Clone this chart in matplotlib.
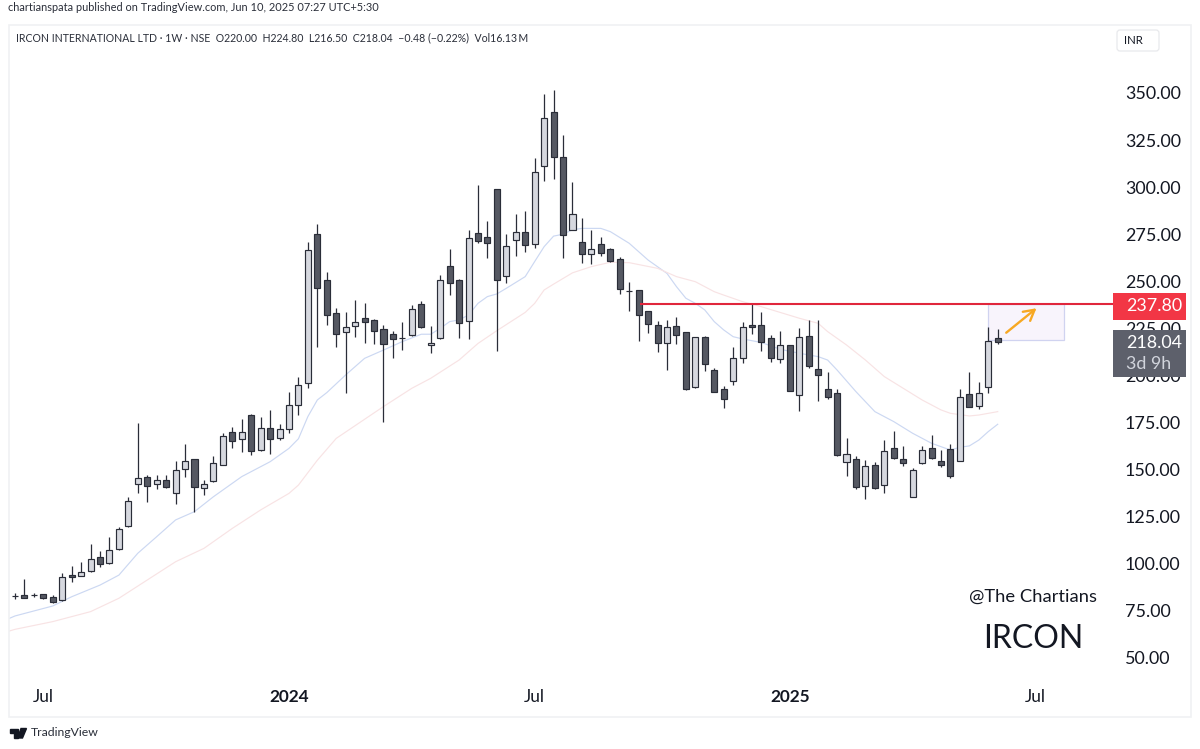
import matplotlib.pyplot as plt
from matplotlib.patches import Rectangle, Polygon, FancyBboxPatch

plt.rcParams['font.family'] = ['Lato', 'DejaVu Sans']

# weekly candles
opens = [83.0, 83.4, 83.4, 83.8, 82.4, 80.8, 94.1, 93.3, 96.0, 103.6, 100.2, 108.0, 119.9, 142.6, 145.9,
         142.6, 144.7, 137.6, 150.3, 155.5, 140.4, 143.9, 152.6, 170.0, 166.4, 178.8, 160.4, 171.9, 166.8, 171.8,
         184.5, 196.2, 275.1, 250.7, 233.2, 222.9, 226.3, 230.4, 229.3, 224.5, 222.0, 219.7, 221.3, 237.8, 216.0,
         219.7, 258.0, 250.7, 228.8, 275.5, 273.7, 299.0, 252.6, 271.8, 276.0, 269.6, 311.4, 339.7, 315.8, 277.1,
         270.7, 264.3, 269.8, 267.0, 262.0, 245.0, 245.4, 234.2, 226.8, 217.1, 226.3, 222.9, 193.7, 220.6, 203.1,
         192.6, 197.2, 209.3, 227.0, 226.8, 220.1, 208.8, 216.2, 189.8, 221.0, 203.4, 192.8, 190.9, 153.9, 155.8,
         141.5, 152.5, 141.7, 161.7, 155.8, 135.3, 153.7, 161.3, 154.4, 160.8, 154.8, 190.0, 184.0, 193.7, 220.0]
highs = [84.3, 91.8, 84.7, 84.1, 83.4, 94.9, 99.0, 100.8, 110.3, 106.6, 114.1, 119.4, 135.5, 174.6, 147.0,
         147.2, 147.2, 154.6, 163.6, 155.5, 144.3, 157.4, 169.5, 172.6, 176.9, 179.7, 177.9, 181.7, 174.4, 191.0,
         199.2, 270.7, 280.5, 254.8, 235.7, 233.9, 240.1, 238.7, 229.8, 226.8, 223.5, 228.6, 237.3, 239.6, 226.5,
         253.4, 267.0, 251.0, 277.1, 301.0, 282.0, 299.0, 275.1, 285.9, 287.3, 315.7, 349.5, 351.6, 327.7, 302.6,
         283.4, 277.2, 273.7, 267.9, 262.9, 249.5, 245.4, 234.2, 228.8, 229.5, 231.2, 223.3, 220.6, 221.0, 203.8,
         194.4, 215.0, 228.4, 237.9, 233.7, 221.5, 223.5, 216.4, 225.2, 229.5, 229.5, 201.7, 192.7, 166.6, 157.3,
         155.0, 153.9, 165.7, 170.5, 162.4, 150.7, 162.4, 168.2, 160.4, 163.8, 192.7, 201.7, 196.4, 225.8, 224.8]
lows = [81.3, 82.0, 82.2, 81.5, 79.4, 80.4, 90.5, 93.3, 95.8, 98.1, 100.0, 107.5, 119.7, 137.8, 132.6,
        139.5, 140.4, 131.8, 145.9, 127.3, 136.5, 143.6, 152.6, 161.5, 159.5, 157.6, 160.0, 158.5, 165.7, 169.7,
        179.2, 193.2, 215.3, 226.8, 215.3, 190.5, 220.6, 217.4, 216.9, 175.2, 209.3, 213.7, 221.0, 225.4, 212.1,
        219.6, 242.9, 220.1, 219.6, 270.2, 262.2, 213.2, 249.3, 263.2, 265.7, 267.5, 303.1, 304.5, 262.2, 277.1,
        259.7, 259.2, 263.6, 260.4, 243.4, 234.4, 218.5, 222.4, 212.6, 202.9, 216.5, 192.3, 193.4, 202.4, 191.0,
        182.9, 195.1, 206.8, 221.9, 213.2, 207.3, 206.8, 191.6, 181.0, 203.8, 186.5, 187.7, 157.1, 146.5, 139.9,
        134.2, 139.9, 137.8, 155.5, 151.8, 135.3, 153.2, 155.8, 151.2, 145.4, 154.4, 183.1, 182.4, 190.9, 216.5]
closes = [82.9, 82.0, 83.4, 81.7, 79.9, 93.0, 92.8, 95.5, 102.7, 99.7, 107.5, 118.3, 133.5, 145.6, 141.1,
          144.7, 141.0, 149.6, 154.4, 140.6, 142.2, 153.3, 167.7, 165.4, 170.0, 160.0, 171.9, 166.4, 171.4, 184.1,
          194.8, 266.8, 246.6, 232.1, 221.9, 225.6, 228.4, 228.2, 223.5, 216.6, 219.2, 219.7, 235.1, 225.8, 217.1,
          250.7, 249.3, 227.9, 273.2, 271.6, 270.6, 250.7, 268.7, 276.0, 269.1, 307.9, 336.5, 315.8, 274.6, 285.7,
          264.3, 267.0, 265.2, 260.8, 245.7, 245.0, 232.3, 227.3, 217.1, 225.9, 221.5, 192.6, 220.3, 205.9, 191.4,
          187.5, 209.3, 225.9, 225.9, 218.0, 209.5, 216.0, 191.8, 220.3, 205.0, 200.4, 188.8, 157.6, 158.3, 141.0,
          152.0, 140.1, 159.7, 156.2, 153.7, 149.6, 160.3, 156.2, 152.7, 146.8, 188.4, 183.4, 190.9, 218.1, 218.04]

# the two moving averages, read at the weeks where they bend
blue_weeks = [-0.6, 0, 4, 6, 9, 11, 13, 15, 17, 19, 21, 24, 27, 29, 30, 31, 32, 33, 35, 37, 39, 41, 43, 44, 45, 46, 47,
              48, 49, 50, 51, 52, 54, 55, 56, 57, 58, 59, 60, 62, 63, 65, 67, 69, 70, 71, 72, 73, 74, 75, 76, 77, 79,
              81, 83, 85, 86, 87, 89, 91, 93, 95, 97, 99, 100, 101, 102, 103, 104]
blue_ma = [71.0, 72.3, 77.6, 82.5, 88.7, 94.0, 105.6, 114.4, 123.3, 127.7, 135.6, 146.3, 154.2, 161.3, 166.4, 178.2,
           187.0, 190.9, 200.3, 209.1, 213.5, 218.0, 221.9, 221.9, 225.0, 228.6, 229.5, 232.1, 238.3, 241.9, 243.3,
           246.3, 252.5, 260.5, 268.4, 274.0, 275.0, 277.4, 278.1, 278.1, 276.4, 270.2, 261.3, 254.2, 247.2, 241.0,
           238.3, 234.8, 228.6, 224.2, 220.6, 219.4, 217.5, 213.9, 211.8, 210.0, 208.2, 202.9, 191.4, 180.8, 175.5,
           169.3, 164.0, 160.4, 161.9, 162.6, 165.7, 170.2, 174.1]
pink_weeks = [-0.6, 0, 4, 8, 11, 14, 17, 20, 23, 26, 29, 30, 32, 34, 39, 42, 44, 47, 49, 51, 54, 55, 56, 57, 59, 61,
              63, 65, 68, 70, 72, 74, 75, 77, 79, 83, 85, 86, 88, 90, 92, 94, 96, 98, 99, 101, 102, 104]
pink_ma = [64.3, 65.2, 69.3, 74.6, 81.7, 91.4, 101.1, 108.2, 118.8, 128.6, 137.4, 141.8, 155.0, 166.6, 183.5, 193.2,
           198.5, 208.2, 217.0, 223.8, 233.5, 238.3, 245.4, 248.5, 254.5, 257.8, 260.1, 259.9, 256.9, 252.5, 249.8,
           244.5, 242.7, 239.2, 236.5, 230.4, 227.7, 223.3, 216.2, 208.2, 199.4, 193.2, 187.0, 181.7, 179.9, 178.5,
           179.0, 180.8]

price_ticks = [50, 75, 100, 125, 150, 175, 200, 225, 250, 275, 300, 325, 350]
date_ticks = [3, 29, 55, 82, 108]
date_labels = ['Jul', '2024', 'Jul', '2025', 'Jul']
date_bold = [False, True, False, True, False]

resistance = 237.80
last_close = 218.04
box_low = 219.0

UP_FILL = '#d6d8df'
DOWN_FILL = '#555862'
EDGE = '#2a2d38'

W, H = 1200, 749
fig = plt.figure(figsize=(12, 7.49), dpi=100, facecolor='white')
ax = fig.add_axes([9 / W, 1 - 680 / H, (1113 - 9) / W, (680 - 25) / H])
ax.set_xlim(-0.63, 116.2)
ax.set_ylim(38.3, 386.1)
for s in ax.spines.values():
    s.set_visible(False)

ax.yaxis.tick_right()
ax.set_yticks(price_ticks)
ax.set_yticklabels(['%.2f' % p for p in price_ticks], fontsize=12.9, color='#131722')
ax.tick_params(axis='y', length=0, pad=8.5)
ax.set_xticks(date_ticks)
ax.set_xticklabels(date_labels, fontsize=12.4, color='#131722')
for lab, bold in zip(ax.get_xticklabels(), date_bold):
    if bold:
        lab.set_fontweight('bold')
ax.tick_params(axis='x', length=0, pad=6.5)

# moving averages sit behind the candles
ax.plot(blue_weeks, blue_ma, color='#ccd8f2', lw=0.85, zorder=1)
ax.plot(pink_weeks, pink_ma, color='#f8e3e4', lw=0.85, zorder=1)

weeks = list(range(len(opens)))
ax.vlines(weeks, lows, highs, color=EDGE, lw=0.9, zorder=2)
for i in weeks:
    up = closes[i] > opens[i]
    bottom = min(opens[i], closes[i])
    height = abs(closes[i] - opens[i])
    ax.bar(i, height, bottom=bottom, width=0.64, color=UP_FILL if up else DOWN_FILL,
           edgecolor=EDGE, linewidth=0.85, zorder=3)

# projection box and arrow
ax.add_patch(Rectangle((103, box_low), 8, resistance - box_low, facecolor='#f8f4fc', edgecolor='#d0d3f0',
                       lw=0.9, zorder=0.5))
ax.annotate('', xy=(108.1, 235.7), xytext=(104.9, 222.7),
            arrowprops=dict(arrowstyle='->,head_length=0.75,head_width=0.42', color='#f7a823', lw=1.7,
                            shrinkA=0, shrinkB=0), zorder=4)

ax.plot([66.1, 116.2], [resistance, resistance], color='#e0263c', lw=1.5, zorder=4, solid_capstyle='butt')

# overlay in pixel coordinates for the frame, price tags and branding
ov = fig.add_axes([0, 0, 1, 1], zorder=10)
ov.set_xlim(0, W)
ov.set_ylim(H, 0)
ov.axis('off')
ov.patch.set_alpha(0)


def price_y(p):
    return 93 + (350 - p) * 1.883


ov.add_patch(Rectangle((8.5, 24.5), 1182, 692, fill=False, edgecolor='#f0f1f3', lw=1.2))
ov.add_patch(FancyBboxPatch((1117, 30), 42, 21, boxstyle='round,pad=0,rounding_size=3', fill=False,
                            edgecolor='#e8e9ec', lw=0.9))
ov.text(1124, 40.5, 'INR', fontsize=8.2, color='#131722', va='center')

ov.text(8, 7.5, 'chartianspata published on TradingView.com, Jun 10, 2025 07:27 UTC+5:30', fontsize=7.95,
        color='#2a2e39', va='center')
ov.text(16, 38, 'IRCON INTERNATIONAL LTD \u00b7 1W \u00b7 NSE  O220.00  H224.80  L216.50  C218.04  \u22120.48 (\u22120.22%)  Vol16.13\u2009M',
        fontsize=7.6, color='#2a2e39', va='center')

tag_red = price_y(resistance)
ov.add_patch(Rectangle((1113, tag_red - 11.5), 73, 27, facecolor='#f23645', edgecolor='none'))
ov.text(1126, tag_red + 2, '%.2f' % resistance, fontsize=12.9, color='white', va='center')
ov.add_patch(Rectangle((1113, 329.5), 73, 47, facecolor='#5d606b', edgecolor='none'))
ov.text(1126, 343, '%.2f' % last_close, fontsize=12.9, color='white', va='center')
ov.text(1126, 364, '3d 9h', fontsize=12.9, color='#d1d4dc', va='center')

ov.text(1033, 597, '@The Chartians', fontsize=13.2, color='#131722', ha='center', va='center')
ov.text(1033.5, 639, 'IRCON', fontsize=23, color='#131722', ha='center', va='center')

# small logo mark
ov.add_patch(Polygon([(9.5, 728.5), (18, 728.5), (18, 738), (14, 738), (14, 732.5), (9.5, 732.5)], color='#131722'))
ov.add_patch(Polygon([(21, 728.5), (26.5, 728.5), (22.5, 738), (17.5, 738)], color='#131722'))
ov.text(31, 733, 'TradingView', fontsize=8.8, color='#2a2e39', va='center')

fig.savefig('out.png', dpi=100, facecolor='white')
